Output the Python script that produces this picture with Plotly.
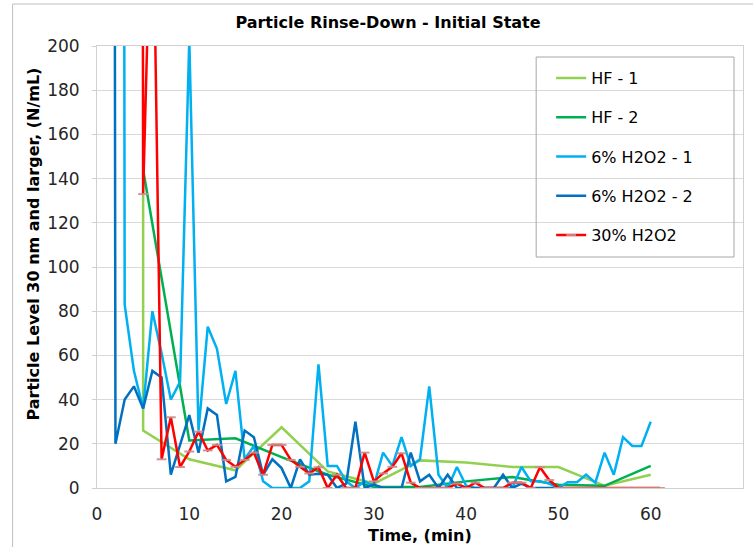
import plotly.graph_objects as go

# ---------------- data ----------------
hf1_t = [5, 5, 10, 15, 20, 25, 30, 35, 40, 45, 50, 55, 60]
hf1_v = [133, 26, 13, 8, 27.5, 7.5, 2, 12.5, 11.5, 9.5, 9.5, 1, 6]

hf2_t = [5, 10, 15, 20, 25, 30, 35, 40, 45, 50, 55, 60]
hf2_v = [144, 21.5, 22.5, 14, 6, 0.5, 0.5, 3, 5, 1.5, 1, 10]

h6a_t = list(range(2, 61))
h6a_v = [3000, 83, 53, 36, 80, 61, 40, 48, 203, 26,
         73, 63, 38, 53, 13, 19, 3, 0, 0, 0,
         0, 3, 56, 10, 10, 3, 0, 3, 1, 16,
         10, 23, 10, 13, 46, 6, 0, 9.5, 1, 0,
         0, 0, 0, 0, 9.5, 3, 3, 2, 0, 2.6,
         2.6, 6, 2.4, 16, 6, 23, 19, 19, 30]

h6b_t = list(range(1, 51))
h6b_v = [3000, 20, 40, 46, 36, 53, 50, 6, 19.5, 33,
         16, 36, 33, 3, 5, 26, 23, 6, 13, 9,
         0, 13, 6, 6.5, 6, 0, 2, 30, 0, 1.5,
         0, 0, 0, 16, 3, 6, 0, 6, 0, 0,
         0, 0, 0, 6, 0, 2, 0, 0, 0, 0]

h30_t = list(range(4, 62))
h30_v = [3000, 133, 290, 13, 32, 9.5, 16.5, 25.5, 17, 19.5,
         12.7, 9.6, 12.7, 16, 6, 19.5, 19.5, 12.7, 9.6, 6.6,
         9.4, 0, 6, 0, 0, 16, 3, 6.6, 9.6, 15.7,
         2.4, 0, 0, 0, 0, 2, 0, 2.4, 0, 0,
         0, 2.4, 2.4, 0, 9.4, 3.6, 0, 0, 0, 0,
         0, 0, 0, 0, 0, 0, 0, 0]

series_names = ["HF - 1", "HF - 2", "6% H2O2 - 1", "6% H2O2 - 2", "30% H2O2"]
x_ticks = [0, 10, 20, 30, 40, 50, 60, 70]
y_ticks = [0, 20, 40, 60, 80, 100, 120, 140, 160, 180, 200]

# ---------------- figure ----------------
FONT = "DejaVu Sans"
fig = go.Figure()

def add_line(t, v, name, color, marker=None, grp="a"):
    kw = dict(x=t, y=v, name=name, mode="lines", legendgroup=grp,
              line=dict(color=color, width=2.5))
    if marker:
        kw["mode"] = "lines+markers"
        kw["marker"] = marker
    fig.add_trace(go.Scatter(**kw))

add_line(hf1_t, hf1_v, series_names[0], "#92D050", grp="g1")
add_line(hf2_t, hf2_v, series_names[1], "#00B050", grp="g2")
add_line(h6a_t, h6a_v, series_names[2], "#00B0F0", grp="g3")
add_line(h6b_t, h6b_v, series_names[3], "#0070C0", grp="g4")
add_line(h30_t, h30_v, series_names[4], "#FF0000",
         marker=dict(symbol="line-ew", size=7, color="rgba(200,140,140,0.9)",
                     line=dict(width=2, color="rgba(200,140,140,0.9)")), grp="g5")

L, R, T, B = 96.5, 743, 46, 488
W, H = 753, 547

def px_x(px):
    return (px - L) / (R - L)

def px_y(py):
    return (B - py) / (B - T)

fig.update_layout(
    width=W, height=H,
    margin=dict(l=L, r=W - R, t=T, b=H - B, autoexpand=False),
    paper_bgcolor="white", plot_bgcolor="white",
    font=dict(family=FONT, size=16, color="#262626"),
    title=dict(text="Particle Rinse-Down - Initial State", x=388 / W, xref="container",
               xanchor="center", y=1 - 22 / H, yref="container", yanchor="middle",
               font=dict(family=FONT, size=16, weight="bold", color="#000000")),
    showlegend=True,
    legend=dict(x=px_x(551), y=px_y(61), xanchor="left", yanchor="top",
                borderwidth=0, bgcolor="rgba(0,0,0,0)",
                font=dict(family=FONT, size=16, color="#000000"),
                tracegroupgap=15.5, itemwidth=30),
    xaxis=dict(range=[0, 70], tickvals=x_ticks, showgrid=False, zeroline=False,
               showline=True, linecolor="#D0D0D0", linewidth=1, mirror=True,
               ticks="", tickfont=dict(size=17, color="#262626"),
               ticklabelstandoff=11),
    yaxis=dict(range=[0, 200], tickvals=y_ticks, showgrid=True, gridcolor="#D9D9D9",
               gridwidth=1.3, zeroline=False, showline=True, linecolor="#D0D0D0",
               linewidth=1, mirror=True, ticks="outside", ticklen=4,
               tickcolor="#D0D0D0", tickfont=dict(size=17, color="#262626"),
               ticklabelstandoff=9),
    annotations=[
        dict(text="Particle Level 30 nm and larger, (N/mL)", textangle=-90,
             xref="paper", yref="paper", x=px_x(33), y=px_y(244),
             xanchor="center", yanchor="middle", showarrow=False,
             font=dict(family=FONT, size=16, weight="bold", color="#000000")),
        dict(text="Time, (min)", xref="paper", yref="paper",
             x=px_x(420), y=px_y(535), xanchor="center", yanchor="middle",
             showarrow=False,
             font=dict(family=FONT, size=16, weight="bold", color="#000000")),
    ],
    shapes=[
        dict(type="rect", xref="paper", yref="paper", layer="below",
             x0=px_x(12), x1=px_x(770), y0=px_y(560), y1=px_y(4),
             line=dict(color="#BFBFBF", width=1), fillcolor="rgba(0,0,0,0)"),
        dict(type="rect", xref="paper", yref="paper", layer="above",
             x0=px_x(536), x1=px_x(734), y0=px_y(257), y1=px_y(57),
             line=dict(color="#A6A6A6", width=1), fillcolor="rgba(0,0,0,0)"),
    ],
)

fig.write_html("out.html", config={"displayModeBar": False},
               post_script="document.body.style.margin='0px';document.body.style.overflow='hidden';")
